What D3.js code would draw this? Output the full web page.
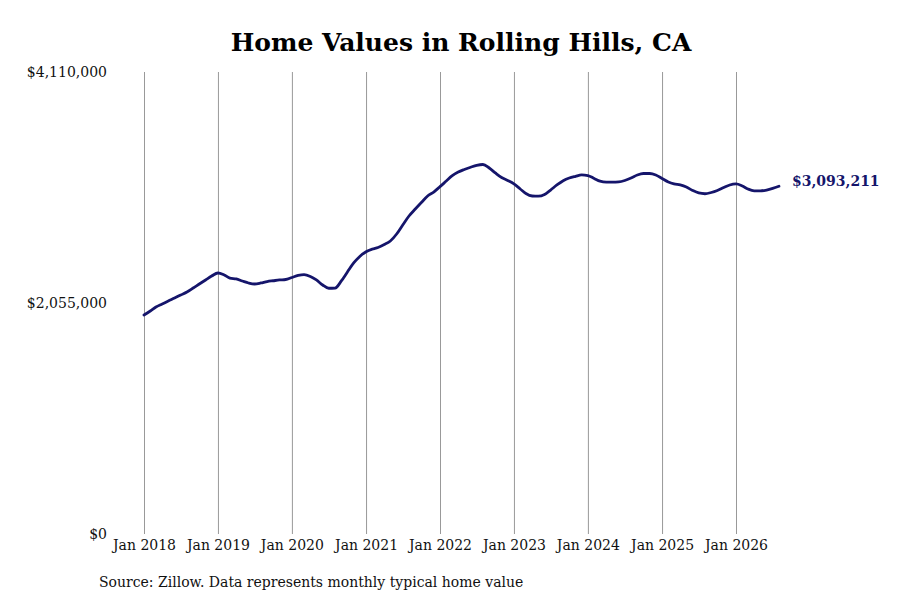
<!DOCTYPE html>
<html>
<head>
<meta charset="utf-8">
<script src="https://cdn.jsdelivr.net/npm/d3@7"></script>
<style>
  body { margin: 0; background: #fff; }
  svg { font-family: "DejaVu Serif", serif; }
</style>
</head>
<body>
<svg width="900" height="600"></svg>
<script>
// monthly typical home value, Jan 2018 onwards
var startMonth = "2018-01";
var homeValues = [
  1948000, 1984000, 2019000, 2046000, 2073000, 2099000, 2126000, 2153000, 2188000, 2224000, 2260000, 2295000,
  2322000, 2304000, 2277000, 2269000, 2251000, 2233000, 2224000, 2233000, 2246000, 2253000, 2260000, 2264000,
  2282000, 2300000, 2307000, 2291000, 2260000, 2215000, 2186000, 2188000, 2251000, 2331000, 2411000, 2469000,
  2511000, 2535000, 2549000, 2575000, 2607000, 2669000, 2749000, 2829000, 2891000, 2949000, 3007000, 3042000,
  3090000, 3140000, 3185000, 3220000, 3243000, 3263000, 3280000, 3287000, 3256000, 3212000, 3171000, 3145000,
  3114000, 3069000, 3029000, 3007000, 3005000, 3020000, 3060000, 3105000, 3143000, 3167000, 3182000, 3194000,
  3189000, 3163000, 3139000, 3131000, 3131000, 3133000, 3145000, 3167000, 3194000, 3207000, 3207000, 3194000,
  3163000, 3131000, 3114000, 3105000, 3087000, 3056000, 3034000, 3027000, 3038000, 3056000, 3082000, 3105000,
  3114000, 3096000, 3069000, 3053000, 3053000, 3060000, 3074000, 3093211
];
var yTicks = [0, 2055000, 4110000];
var xTickYears = [2018, 2019, 2020, 2021, 2022, 2023, 2024, 2025, 2026];

var title = "Home Values in Rolling Hills, CA";
var source = "Source: Zillow. Data represents monthly typical home value";

var parseMonth = d3.timeParse("%Y-%m");
var t0 = parseMonth(startMonth);
var points = homeValues.map(function(v, i) {
    return { date: d3.timeMonth.offset(t0, i), value: v };
});

var svg = d3.select("svg");

var xscale = d3.scaleTime()
    .domain([new Date(2018, 0, 1), new Date(2026, 0, 1)])
    .range([144, 736]);

var yscale = d3.scaleLinear()
    .domain([0, 4110000])
    .range([534, 72]);

// title
svg.append("text")
    .attr("x", 461)
    .attr("y", 51)
    .attr("text-anchor", "middle")
    .style("font-size", "25px")
    .style("font-weight", "bold")
    .text(title);

// vertical gridlines + x labels
var xAxis = svg.append("g")
    .attr("transform", "translate(0,534)")
    .call(d3.axisBottom(xscale)
        .tickValues(xTickYears.map(function(y) { return new Date(y, 0, 1); }))
        .tickSize(-(534 - 72))
        .tickPadding(6)
        .tickFormat(d3.timeFormat("Jan %Y")));
xAxis.select(".domain").remove();
xAxis.selectAll(".tick line").attr("stroke", "#999").attr("stroke-width", 1);
xAxis.selectAll(".tick text")
    .style("font-family", "DejaVu Serif, serif")
    .style("font-size", "14px")
    .attr("fill", "#111");

// y labels
var yAxis = svg.append("g")
    .attr("transform", "translate(107,0)")
    .call(d3.axisLeft(yscale)
        .tickValues(yTicks)
        .tickSize(0)
        .tickPadding(0)
        .tickFormat(function(d) { return "$" + d3.format(",")(d); }));
yAxis.select(".domain").remove();
yAxis.selectAll(".tick text")
    .style("font-family", "DejaVu Serif, serif")
    .style("font-size", "14px")
    .attr("fill", "#111");

// line
var line = d3.line()
    .x(function(d) { return xscale(d.date); })
    .y(function(d) { return yscale(d.value); })
    .curve(d3.curveMonotoneX);

svg.append("path")
    .datum(points)
    .attr("fill", "none")
    .attr("stroke", "#15156b")
    .attr("stroke-width", 2.8)
    .attr("stroke-linejoin", "round")
    .attr("stroke-linecap", "round")
    .attr("d", line);

// end label
var last = points[points.length - 1];
svg.append("text")
    .attr("x", xscale(last.date) + 13)
    .attr("y", yscale(last.value) - 4)
    .attr("dominant-baseline", "middle")
    .style("font-size", "14px")
    .style("font-weight", "bold")
    .attr("fill", "#15156b")
    .text("$" + d3.format(",")(last.value));

// source
svg.append("text")
    .attr("x", 99)
    .attr("y", 587)
    .style("font-size", "14px")
    .attr("fill", "#111")
    .text(source);
</script>
</body>
</html>
